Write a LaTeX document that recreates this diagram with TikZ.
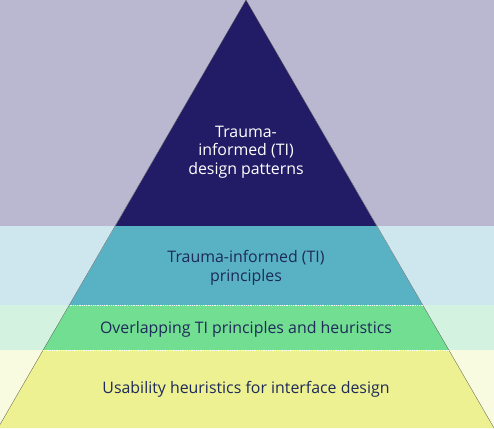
\documentclass[tikz,border=0pt]{standalone}
\usepackage{fontspec}
\setmainfont{Open Sans}
\definecolor{bgtop}{HTML}{BAB8D0}
\definecolor{bgteal}{HTML}{CEE7EE}
\definecolor{bggreen}{HTML}{D3F3E0}
\definecolor{bgyellow}{HTML}{F8FBDF}
\definecolor{pnavy}{HTML}{221C67}
\definecolor{pteal}{HTML}{58B2C3}
\definecolor{pgreen}{HTML}{72DE92}
\definecolor{pyellow}{HTML}{EEF192}
\definecolor{txt}{HTML}{1E2A5A}
\tikzset{
  lbl/.style={align=center, font=\fontsize{15.9}{18.5}\selectfont, text=txt, inner sep=0pt},
  sep/.style={white, densely dotted, line width=0.8pt}
}
\begin{document}
\begin{tikzpicture}[x=1pt,y=-1pt]
\useasboundingbox (0,0) rectangle (494,428);
% background bands
\fill[bgtop] (0,0) rectangle (494,226);
\fill[bgteal] (0,226) rectangle (494,305);
\fill[bggreen] (0,305) rectangle (494,350);
\fill[bgyellow] (0,350) rectangle (494,428);
% coordinates
\coordinate (apex) at (246,0);
\coordinate (l1) at (115.5,226);
\coordinate (r1) at (376.5,226);
\coordinate (l2) at (69.5,305);
\coordinate (r2) at (422.5,305);
\coordinate (l3) at (43,350);
\coordinate (r3) at (449,350);
\coordinate (l4) at (-2,428);
\coordinate (r4) at (494,428);
% pyramid layers
\fill[pnavy] (apex) -- (r1) -- (l1) -- cycle;
\fill[pteal] (l1) -- (r1) -- (r2) -- (l2) -- cycle;
\fill[pgreen] (l2) -- (r2) -- (r3) -- (l3) -- cycle;
\fill[pyellow] (l3) -- (r3) -- (r4) -- (l4) -- cycle;
\draw[gray!70!black, line width=0.3pt] (l4) -- (apex) -- (r4);
\draw[sep] (l2) -- (r2);
\draw[sep] (l3) -- (r3);
% labels
\node[lbl, text=white] (t1) at (246,152) {Trauma-\\informed (TI)\\design patterns};
\node[lbl] (t2) at (246,268) {Trauma-informed (TI)\\principles};
\node[lbl] (t3) at (246,329) {Overlapping TI principles and heuristics};
\node[lbl] (t4) at (246,389) {Usability heuristics for interface design};
\end{tikzpicture}
\end{document}
